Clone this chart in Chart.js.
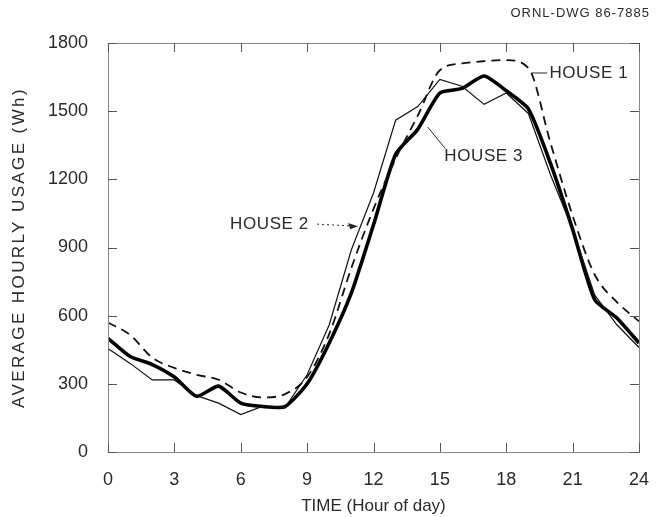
<!DOCTYPE html>
<html>
<head>
<meta charset="utf-8">
<script src="https://cdn.jsdelivr.net/npm/chart.js@4/dist/chart.umd.min.js"></script>
<style>
  html, body { margin: 0; padding: 0; background: #fff; }
  #wrap { width: 656px; height: 517px; position: relative; }
</style>
</head>
<body>
<div id="wrap"><canvas id="chart" width="656" height="517"></canvas></div>
<script>
"use strict";

// data, hour 0..24
var hours = [0,1,2,3,4,5,6,7,8,9,10,11,12,13,14,15,16,17,18,19,20,21,22,23,24];
var house1 = [570,515,415,370,340,318,262,240,255,330,520,810,1070,1290,1480,1680,1710,1720,1725,1690,1360,1040,780,660,575];
var house2 = [455,390,317,317,248,215,165,202,195,340,560,890,1140,1460,1520,1640,1610,1530,1580,1490,1220,980,690,560,460];
var house3 = [500,420,385,330,245,290,215,200,200,300,480,700,1000,1310,1420,1580,1600,1655,1590,1510,1270,980,670,590,480];
var xTicks = [0,3,6,9,12,15,18,21,24];
var yTicks = [0,300,600,900,1200,1500,1800];

var FONT = "'Liberation Sans', Arial, sans-serif";
var INK = '#2a2a2a';

function points(values) {
	return values.map(function (v, i) { return { x: hours[i], y: v }; });
}

// frame, inner ticks, labels on the curves, drawing number
var decorations = {
	id: 'decorations',
	afterDraw: function (chart) {
		var ctx = chart.ctx;
		var a = chart.chartArea;
		var xs = chart.scales.x, ys = chart.scales.y;
		function px(h) { return xs.getPixelForValue(h); }
		function py(v) { return ys.getPixelForValue(v); }

		ctx.save();
		ctx.strokeStyle = '#888';
		ctx.lineWidth = 1;
		ctx.strokeRect(a.left + 0.5, a.top + 0.5, a.right - a.left, a.bottom - a.top);

		ctx.strokeStyle = '#555';
		ctx.beginPath();
		xTicks.forEach(function (t) {
			var x = Math.round(px(t)) + 0.5;
			ctx.moveTo(x, a.bottom); ctx.lineTo(x, a.bottom - 9);
			ctx.moveTo(x, a.top); ctx.lineTo(x, a.top + 9);
		});
		yTicks.forEach(function (t) {
			var y = Math.round(py(t)) + 0.5;
			ctx.moveTo(a.left, y); ctx.lineTo(a.left + 9, y);
			ctx.moveTo(a.right, y); ctx.lineTo(a.right - 9, y);
		});
		ctx.stroke();

		// y axis title, spaced out like the lettering on the drawing
		ctx.fillStyle = INK;
		ctx.save();
		ctx.translate(19, (a.top + a.bottom) / 2);
		ctx.rotate(-Math.PI / 2);
		ctx.font = '17px ' + FONT;
		ctx.letterSpacing = '2.4px';
		ctx.textAlign = 'center';
		ctx.textBaseline = 'middle';
		ctx.fillText('AVERAGE HOURLY USAGE (Wh)', 0, 0);
		ctx.restore();

		// curve labels
		ctx.font = '17px ' + FONT;
		ctx.letterSpacing = '0.6px';
		ctx.textBaseline = 'middle';
		ctx.textAlign = 'left';
		ctx.fillText('HOUSE 1', px(19.95), py(1668));
		ctx.fillText('HOUSE 3', px(15.2), py(1300));
		ctx.textAlign = 'center';
		ctx.fillText('HOUSE 2', px(7.3), py(1003));

		ctx.strokeStyle = INK;
		ctx.lineWidth = 1;
		// house 1 leader
		ctx.beginPath();
		ctx.moveTo(px(19.15), py(1668));
		ctx.lineTo(px(19.85), py(1668));
		ctx.stroke();
		// house 3 leader
		ctx.beginPath();
		ctx.moveTo(px(14.45), py(1430));
		ctx.lineTo(px(15.25), py(1335));
		ctx.stroke();
		// house 2 dotted leader with arrow
		ctx.setLineDash([2, 3]);
		ctx.beginPath();
		ctx.moveTo(px(9.45), py(1003));
		ctx.lineTo(px(10.95), py(995));
		ctx.stroke();
		ctx.setLineDash([]);
		ctx.beginPath();
		ctx.moveTo(px(11.3), py(993));
		ctx.lineTo(px(10.85), py(1008));
		ctx.lineTo(px(10.95), py(980));
		ctx.closePath();
		ctx.fill();

		// drawing number
		ctx.font = '13px ' + FONT;
		ctx.letterSpacing = '1px';
		ctx.textAlign = 'right';
		ctx.fillText('ORNL-DWG 86-7885', 650, 13);
		ctx.restore();
	}
};

var context = document.getElementById('chart');
var myChart = new Chart(context, {
	type: 'line',
	data: {
		datasets: [{
			label: 'HOUSE 1',
			data: points(house1),
			borderColor: '#111',
			borderWidth: 1.8,
			borderDash: [9, 6],
			cubicInterpolationMode: 'monotone',
			pointRadius: 0,
			fill: false
		}, {
			label: 'HOUSE 2',
			data: points(house2),
			borderColor: '#111',
			borderWidth: 1.2,
			tension: 0,
			pointRadius: 0,
			fill: false
		}, {
			label: 'HOUSE 3',
			data: points(house3),
			borderColor: '#000',
			borderWidth: 3.6,
			tension: 0.2,
			pointRadius: 0,
			fill: false
		}]
	},
	options: {
		responsive: false,
		animation: false,
		layout: { padding: { top: 43, right: 17, left: 0, bottom: 0 } },
		plugins: {
			legend: { display: false },
			tooltip: { enabled: false }
		},
		scales: {
			x: {
				type: 'linear',
				min: 0,
				max: 24,
				afterFit: function (scale) {
					scale.height = 65;
					scale.paddingLeft = 0;
					scale.paddingRight = 0;
				},
				afterBuildTicks: function (scale) {
					scale.ticks = xTicks.map(function (v) { return { value: v }; });
				},
				grid: { display: false, drawTicks: false },
				border: { display: false },
				ticks: {
					padding: 17,
					color: INK,
					font: { family: FONT, size: 18 },
					callback: function (v) { return String(v); }
				},
				title: {
					display: true,
					text: 'TIME (Hour of day)',
					color: INK,
					font: { family: FONT, size: 17 },
					padding: { top: 4, bottom: 0 }
				}
			},
			y: {
				type: 'linear',
				min: 0,
				max: 1800,
				afterFit: function (scale) {
					scale.width = 108;
					scale.paddingTop = 0;
					scale.paddingBottom = 0;
				},
				afterBuildTicks: function (scale) {
					scale.ticks = yTicks.map(function (v) { return { value: v }; });
				},
				grid: { display: false, drawTicks: false },
				border: { display: false },
				ticks: {
					padding: 20,
					color: INK,
					font: { family: FONT, size: 18 },
					callback: function (v) { return String(v); }
				},
				title: { display: false }
			}
		}
	},
	plugins: [decorations]
});
</script>
</body>
</html>
